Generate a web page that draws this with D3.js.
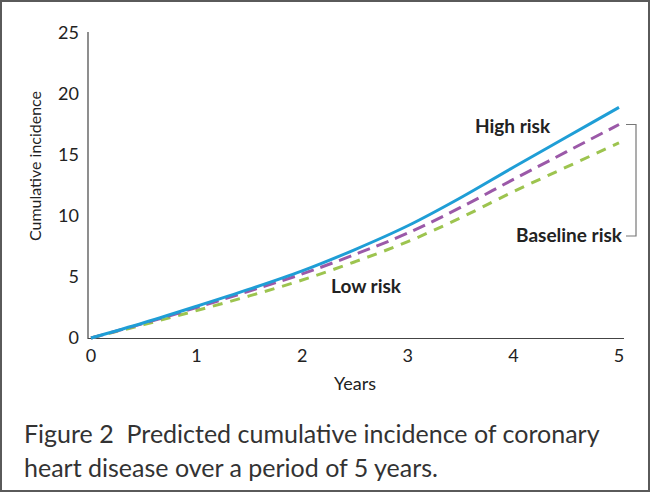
<!DOCTYPE html>
<html>
<head>
<meta charset="utf-8">
<script src="https://cdn.jsdelivr.net/npm/d3@7"></script>
<style>
  html, body { margin: 0; padding: 0; background: #fff; }
  svg { display: block; }
</style>
</head>
<body>
<div id="chart"></div>
<script>
// Data
const years = [0, 0.5, 1, 1.5, 2, 2.5, 3, 3.5, 4, 4.5, 5];
const highRisk = [0, 1.25, 2.6, 4.0, 5.5, 7.25, 9.2, 11.5, 14.0, 16.45, 18.9];
const baselineRisk = [0, 1.2, 2.5, 3.85, 5.25, 6.85, 8.6, 10.7, 13.0, 15.25, 17.5];
const lowRisk = [0, 1.1, 2.25, 3.45, 4.75, 6.25, 7.9, 9.85, 12.0, 14.0, 16.0];
const xTicks = [0, 1, 2, 3, 4, 5];
const yTicks = [0, 5, 10, 15, 20, 25];

const width = 651;
const height = 493;
const font = "Lato, 'Open Sans', sans-serif";

const svg = d3.select("#chart")
    .append("svg")
    .attr("width", width)
    .attr("height", height);

// frame
svg.append("rect")
    .attr("x", 1).attr("y", 1)
    .attr("width", width - 3).attr("height", height - 3)
    .attr("fill", "#fff")
    .attr("stroke", "#5a5a5a")
    .attr("stroke-width", 2);

const x = d3.scaleLinear().domain([0, 5]).range([91, 619]);
const y = d3.scaleLinear().domain([0, 25]).range([338, 33]);

// axes lines
svg.append("line")
    .attr("x1", 88).attr("x2", 88)
    .attr("y1", 32).attr("y2", 339)
    .attr("stroke", "#444").attr("stroke-width", 1.2);
svg.append("line")
    .attr("x1", 88).attr("x2", 624)
    .attr("y1", 338.5).attr("y2", 338.5)
    .attr("stroke", "#444").attr("stroke-width", 1.2);

// tick labels
svg.selectAll(".ytick")
    .data(yTicks)
    .enter()
    .append("text")
    .attr("class", "ytick")
    .attr("x", 79)
    .attr("y", d => y(d))
    .attr("dy", "0.35em")
    .attr("text-anchor", "end")
    .style("font-family", font)
    .style("font-size", "18px")
    .style("fill", "#222")
    .text(d => d);

svg.selectAll(".xtick")
    .data(xTicks)
    .enter()
    .append("text")
    .attr("class", "xtick")
    .attr("x", d => x(d))
    .attr("y", 362)
    .attr("text-anchor", "middle")
    .style("font-family", font)
    .style("font-size", "18px")
    .style("fill", "#222")
    .text(d => d);

// axis titles
svg.append("text")
    .attr("x", 355)
    .attr("y", 390)
    .attr("text-anchor", "middle")
    .style("font-family", font)
    .style("font-size", "18px")
    .style("fill", "#222")
    .text("Years");

svg.append("text")
    .attr("transform", "translate(41,166) rotate(-90)")
    .attr("text-anchor", "middle")
    .style("font-family", font)
    .style("font-size", "16px")
    .style("fill", "#222")
    .text("Cumulative incidence");

// lines
const series = [
    { name: "low", values: lowRisk, color: "#9dc44f", dash: "10,8" },
    { name: "baseline", values: baselineRisk, color: "#9b59a8", dash: "13,7" },
    { name: "high", values: highRisk, color: "#1f9ed6", dash: null }
];

const line = d3.line()
    .x((d, i) => x(years[i]))
    .y(d => y(d))
    .curve(d3.curveMonotoneX);

svg.selectAll(".series")
    .data(series)
    .enter()
    .append("path")
    .attr("class", "series")
    .attr("d", d => line(d.values))
    .attr("fill", "none")
    .attr("stroke", d => d.color)
    .attr("stroke-width", 3)
    .attr("stroke-dasharray", d => d.dash);

// labels
const labelStyle = sel => sel
    .style("font-family", font)
    .style("font-size", "19px")
    .style("font-weight", "bold")
    .style("fill", "#222");

svg.append("text").attr("x", 475).attr("y", 133).call(labelStyle).text("High risk");
svg.append("text").attr("x", 331).attr("y", 293).call(labelStyle).text("Low risk");
svg.append("text").attr("x", 622).attr("y", 242).attr("text-anchor", "end").call(labelStyle).text("Baseline risk");

// bracket joining the baseline label to the end of its line
const yb = y(baselineRisk[baselineRisk.length - 1]);
svg.append("path")
    .attr("d", `M626,${yb}H636V236H626`)
    .attr("fill", "none")
    .attr("stroke", "#777")
    .attr("stroke-width", 1.2);

// caption
const caption = svg.append("text")
    .style("font-family", font)
    .style("font-size", "25px")
    .style("fill", "#333");
caption.append("tspan").attr("x", 24).attr("y", 443)
    .text("Figure 2\u00a0\u00a0Predicted cumulative incidence of coronary");
caption.append("tspan").attr("x", 24).attr("y", 477)
    .text("heart disease over a period of 5 years.");
</script>
</body>
</html>
